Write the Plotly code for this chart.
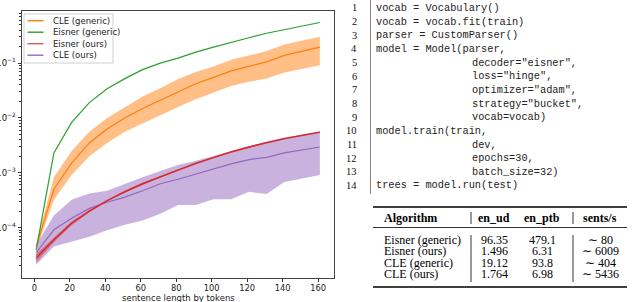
import plotly.graph_objects as go

# ---------------- data ----------------
sent_len = [1, 11, 21, 31, 41, 51, 61, 71, 81, 91, 101, 111, 121, 131, 141, 151, 161]

eisner_generic = [3.9e-5, 2.3e-3, 8.3e-3, 0.019, 0.034, 0.052, 0.076, 0.10, 0.123, 0.158,
                  0.195, 0.24, 0.29, 0.35, 0.41, 0.48, 0.55]

cle_generic = [4.5e-5, 5.0e-4, 1.5e-3, 3.5e-3, 6.3e-3, 0.010, 0.0148, 0.021, 0.0295, 0.042,
               0.055, 0.072, 0.087, 0.105, 0.138, 0.166, 0.195]
cle_generic_hi = [5.0e-5, 8.3e-4, 2.5e-3, 5.6e-3, 0.010, 0.0158, 0.0245, 0.0347, 0.051, 0.069,
                  0.087, 0.115, 0.138, 0.166, 0.219, 0.257, 0.302]
cle_generic_lo = [3.9e-5, 3.2e-4, 9.1e-4, 2.0e-3, 3.5e-3, 5.6e-3, 8.1e-3, 0.0112, 0.0158, 0.0219,
                  0.0288, 0.038, 0.0457, 0.0525, 0.0676, 0.0794, 0.0912]

eisner_ours = [2.8e-5, 6.0e-5, 1.2e-4, 2.0e-4, 3.1e-4, 4.5e-4, 6.3e-4, 8.5e-4, 1.12e-3, 1.48e-3,
               1.9e-3, 2.4e-3, 2.95e-3, 3.55e-3, 4.2e-3, 4.8e-3, 5.5e-3]
eisner_ours_hi = [3.3e-5, 6.6e-5, 1.3e-4, 2.1e-4, 3.2e-4, 4.7e-4, 6.6e-4, 8.8e-4, 1.16e-3, 1.53e-3,
                  1.96e-3, 2.5e-3, 3.05e-3, 3.65e-3, 4.3e-3, 4.95e-3, 5.7e-3]
eisner_ours_lo = [2.3e-5, 5.4e-5, 1.1e-4, 1.9e-4, 3.0e-4, 4.3e-4, 6.0e-4, 8.2e-4, 1.08e-3, 1.43e-3,
                  1.84e-3, 2.3e-3, 2.85e-3, 3.45e-3, 4.05e-3, 4.65e-3, 5.3e-3]

cle_ours = [3.5e-5, 9.1e-5, 1.48e-4, 2.24e-4, 2.9e-4, 3.6e-4, 4.7e-4, 6.3e-4, 7.6e-4, 9.5e-4,
            1.17e-3, 1.45e-3, 1.74e-3, 1.9e-3, 2.3e-3, 2.6e-3, 2.95e-3]
cle_ours_hi = [4.8e-5, 1.66e-4, 3.2e-4, 4.2e-4, 4.7e-4, 6.3e-4, 8.3e-4, 1.07e-3, 1.38e-3, 1.66e-3,
               2.04e-3, 2.5e-3, 3.1e-3, 3.7e-3, 4.4e-3, 5.0e-3, 5.6e-3]
cle_ours_lo = [2.1e-5, 4.5e-5, 5.5e-5, 6.8e-5, 8.9e-5, 1.12e-4, 1.35e-4, 1.78e-4, 2.57e-4, 2.57e-4,
               3.3e-4, 3.3e-4, 4.5e-4, 4.1e-4, 6.8e-4, 7.9e-4, 9.1e-4]

legend_labels = ["CLE (generic)", "Eisner (generic)", "Eisner (ours)", "CLE (ours)"]

x_ticks = [0, 20, 40, 60, 80, 100, 120, 140, 160]
y_ticks = [1e-4, 1e-3, 1e-2, 1e-1]
y_tick_text = ["10<sup>−4</sup>", "10<sup>−3</sup>", "10<sup>−2</sup>", "10<sup>−1</sup>"]
y_minor = [m * 10.0 ** e for e in range(-5, 0) for m in range(2, 10)]

code_lines = [
    'vocab = Vocabulary()',
    'vocab = vocab.fit(train)',
    'parser = CustomParser()',
    'model = Model(parser,',
    '                   decoder="eisner",',
    '                   loss="hinge",',
    '                   optimizer="adam",',
    '                   strategy="bucket",',
    '                   vocab=vocab)',
    'model.train(train,',
    '                   dev,',
    '                   epochs=30,',
    '                   batch_size=32)',
    'trees = model.run(test)',
]

table_header = ["Algorithm", "en_ud", "en_ptb", "sents/s"]
table_algorithms = ["Eisner (generic)", "Eisner (ours)", "CLE (generic)", "CLE (ours)"]
table_en_ud = ["96.35", "1.496", "19.12", "1.764"]
table_en_ptb = ["479.1", "6.31", "93.8", "6.98"]
table_speed = ["∼ 80", "∼ 6009", "∼ 404", "∼ 5436"]

# ---------------- styling ----------------
C_ORANGE, C_GREEN, C_RED, C_PURPLE = "#ff7f0e", "#2ca02c", "#d62728", "#9467bd"
FONT = "DejaVu Sans"
SERIF = "Liberation Serif"
MONO = "Liberation Mono"

W_FIG, H_FIG = 640, 302
L, R, T, B = 22, 334, 11, 278  # plot area in pixels


def px(xp):
    return (xp - L) / (R - L)


def py(yp):
    return (B - yp) / (B - T)


fig = go.Figure()


def band(lo, hi, color):
    fig.add_trace(go.Scatter(
        x=sent_len + sent_len[::-1], y=hi + lo[::-1], fill="toself",
        fillcolor=color, line=dict(width=0), mode="lines",
        hoverinfo="skip", showlegend=False))


def line(y, color, w=1.2):
    fig.add_trace(go.Scatter(x=sent_len, y=y, mode="lines",
                             line=dict(color=color, width=w), showlegend=False))


band(cle_generic_lo, cle_generic_hi, "rgba(255,127,14,0.5)")
line(cle_generic, C_ORANGE)
line(eisner_generic, C_GREEN)
band(cle_ours_lo, cle_ours_hi, "rgba(148,103,189,0.5)")
band(eisner_ours_lo, eisner_ours_hi, "rgba(214,39,40,0.45)")
line(cle_ours, C_PURPLE)
line(eisner_ours, C_RED, 1.4)

shapes = []
annotations = []

# legend (manual, matplotlib-like compact)
shapes.append(dict(type="rect", xref="paper", yref="paper",
                   x0=px(24), x1=px(113), y0=py(14), y1=py(63),
                   line=dict(color="#d0d0d0", width=1), fillcolor="rgba(255,255,255,0.85)",
                   layer="above"))
legend_colors = [C_ORANGE, C_GREEN, "#e05555", C_PURPLE]
for i, (lab, col) in enumerate(zip(legend_labels, legend_colors)):
    yy = 20.7 + i * 11.5
    shapes.append(dict(type="line", xref="paper", yref="paper",
                       x0=px(27.5), x1=px(43.5), y0=py(yy), y1=py(yy),
                       line=dict(color=col, width=1.4), layer="above"))
    annotations.append(dict(text=lab, xref="paper", yref="paper", x=px(50.5), y=py(yy),
                            xanchor="left", yanchor="middle", showarrow=False,
                            font=dict(family=FONT, size=8.5, color="#222")))

# x axis title
annotations.append(dict(text="sentence length by tokens", xref="paper", yref="paper",
                        x=0.5, y=py(297.8), xanchor="center", yanchor="middle", showarrow=False,
                        font=dict(family=FONT, size=8.5, color="#222")))

# code listing
CODE_X = 374
CHAR_W = 5.05
LINE0 = 8
DY = 13.65
for i, c in enumerate(code_lines):
    yy = LINE0 + i * DY
    indent = len(c) - len(c.lstrip(" "))
    annotations.append(dict(text=str(i + 1), xref="paper", yref="paper", x=px(359), y=py(yy),
                            xanchor="right", yanchor="middle", showarrow=False,
                            font=dict(family=SERIF, size=10.5, color="#111")))
    annotations.append(dict(text=c.strip(), xref="paper", yref="paper",
                            x=px(CODE_X + indent * CHAR_W), y=py(yy),
                            xanchor="left", yanchor="middle", showarrow=False,
                            font=dict(family=MONO, size=10.3, color="#222")))
shapes.append(dict(type="line", xref="paper", yref="paper", x0=px(370.5), x1=px(370.5),
                   y0=py(0), y1=py(194), line=dict(color="#888", width=1)))

# table
TL, TR = 373, 627
col_x = [382, 494, 542, 600]
shapes.append(dict(type="line", xref="paper", yref="paper", x0=px(TL), x1=px(TR),
                   y0=py(207), y1=py(207), line=dict(color="#000", width=1.5)))
shapes.append(dict(type="line", xref="paper", yref="paper", x0=px(TL), x1=px(TR),
                   y0=py(227.5), y1=py(227.5), line=dict(color="#000", width=0.8)))
shapes.append(dict(type="line", xref="paper", yref="paper", x0=px(TL), x1=px(TR),
                   y0=py(287), y1=py(287), line=dict(color="#000", width=1.5)))
for vx in (471, 573):
    shapes.append(dict(type="line", xref="paper", yref="paper", x0=px(vx), x1=px(vx),
                       y0=py(212), y1=py(224), line=dict(color="#000", width=0.8)))
    shapes.append(dict(type="line", xref="paper", yref="paper", x0=px(vx), x1=px(vx),
                       y0=py(235), y1=py(282), line=dict(color="#000", width=0.8)))

for j, h in enumerate(table_header):
    annotations.append(dict(text="<b>" + h + "</b>", xref="paper", yref="paper",
                            x=px(col_x[j]), y=py(218),
                            xanchor="left" if j == 0 else "center", yanchor="middle",
                            showarrow=False, font=dict(family=SERIF, size=12, color="#000")))
rows = list(zip(table_algorithms, table_en_ud, table_en_ptb, table_speed))
for i, r in enumerate(rows):
    yy = 240 + i * 11.3
    for j, v in enumerate(r):
        annotations.append(dict(text=v, xref="paper", yref="paper", x=px(col_x[j]), y=py(yy),
                                xanchor="left" if j == 0 else "center", yanchor="middle",
                                showarrow=False, font=dict(family=SERIF, size=12, color="#000")))

fig.update_layout(
    width=W_FIG, height=H_FIG,
    margin=dict(l=L, r=W_FIG - R, t=T, b=H_FIG - B, pad=0),
    paper_bgcolor="white", plot_bgcolor="white",
    showlegend=False,
    shapes=shapes, annotations=annotations,
    xaxis=dict(range=[-7, 169], tickmode="array", tickvals=x_ticks,
               ticks="outside", ticklen=2.5, tickwidth=0.8, tickcolor="#333",
               showline=True, mirror=True, linecolor="#444", linewidth=1,
               showgrid=False, zeroline=False, automargin=False,
               tickfont=dict(family=FONT, size=8.3, color="#222")),
    yaxis=dict(type="log", range=[-4.92, -0.05], tickmode="array", tickvals=y_ticks,
               ticktext=y_tick_text,
               ticks="outside", ticklen=3.5, tickwidth=0.8, tickcolor="#333",
               minor=dict(tickmode="array", tickvals=y_minor, ticks="outside", ticklen=2,
                          tickwidth=0.6, tickcolor="#333", showgrid=False),
               showline=True, mirror=True, linecolor="#444", linewidth=1,
               showgrid=False, zeroline=False, automargin=False,
               tickfont=dict(family=FONT, size=8.5, color="#222")),
)

fig.write_html(
    "out.html",
    config={"displayModeBar": False},
    post_script="document.body.style.margin='0';document.body.style.padding='0';"
                "document.documentElement.style.overflow='hidden';",
)
